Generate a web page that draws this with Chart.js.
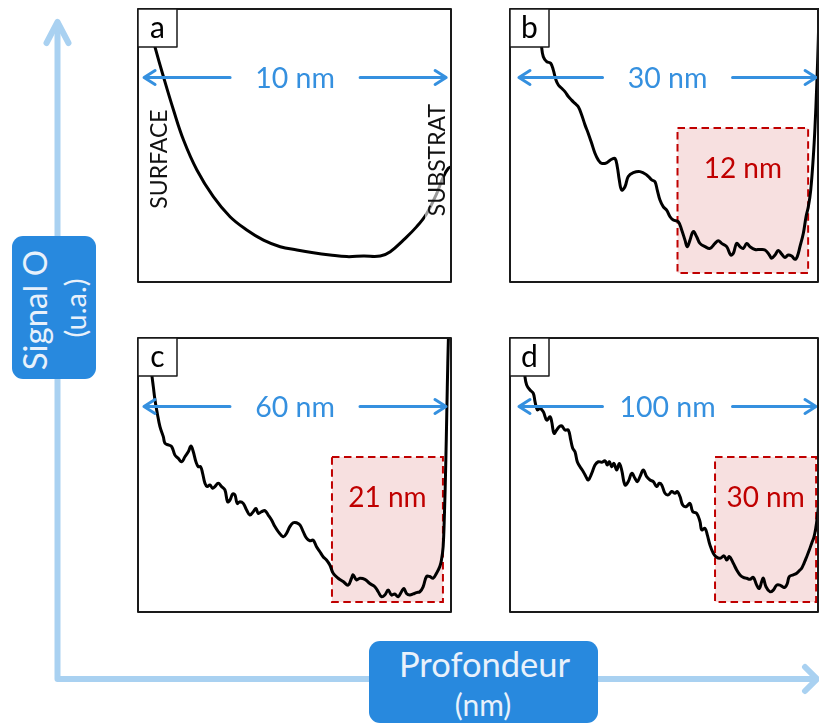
<!DOCTYPE html>
<html>
<head>
<meta charset="utf-8">
<script src="https://cdn.jsdelivr.net/npm/chart.js@4/dist/chart.umd.min.js"></script>
<style>
  html,body{margin:0;padding:0;background:#fff;}
  body{width:819px;height:725px;position:relative;overflow:hidden;font-family:Lato,"Open Sans",sans-serif;}
  canvas.panel{position:absolute;}
  svg{position:absolute;left:0;top:0;}
</style>
</head>
<body>
<svg width="819" height="725">
  <g stroke="#a9d1f1" stroke-width="6" fill="none" stroke-linecap="round" stroke-linejoin="round">
    <path d="M57.5 24 V679 H815"/>
    <path d="M46.5 43 L57.5 22 L68.5 43"/>
    <path d="M805 667 L817 679 L805 691"/>
  </g>
  <rect x="12" y="236" width="84" height="143" rx="11" fill="#2889de"/>
  <text transform="translate(46.5,310) rotate(-90)" text-anchor="middle" font-family="Lato" font-size="33" fill="#e8f1fb">Signal O</text>
  <text transform="translate(86,308) rotate(-90)" text-anchor="middle" font-family="Lato" font-size="29" fill="#e8f1fb">(u.a.)</text>
  <rect x="369" y="641" width="229" height="82" rx="11" fill="#2889de"/>
  <text x="484.5" y="677" text-anchor="middle" font-family="Lato" font-size="34.5" fill="#e8f1fb">Profondeur</text>
  <text x="483" y="716" text-anchor="middle" font-family="Lato" font-size="30" fill="#e8f1fb">(nm)</text>
</svg>
<canvas class="panel" id="pa" width="315" height="275" style="left:137px;top:8px"></canvas>
<canvas class="panel" id="pb" width="310" height="275" style="left:509px;top:8px"></canvas>
<canvas class="panel" id="pc" width="315" height="276" style="left:137px;top:337px"></canvas>
<canvas class="panel" id="pd" width="310" height="276" style="left:509px;top:337px"></canvas>
<script>
// ---- data (depth in nm, O signal in arbitrary units) ----
const panelLetters = ['a', 'b', 'c', 'd'];
const spanLabels = ['10 nm', '30 nm', '60 nm', '100 nm'];
const spanNm = [10, 30, 60, 100];
const zoneLabels = [null, '12 nm', '21 nm', '30 nm'];
const zoneDepth = [null, [16, 29.1], [37.3, 59.2], [65.9, 99.7]];
const zoneSignal = [null, [3.6, 56.4], [4, 56.5], [4, 56.5]];
const depthRange = [[-0.2, 10.16], [-0.9, 30.19], [-1.18, 60.99], [-3.01, 100.67]];

const depthA = [0.1,0.16,0.39,0.67,1.0,1.33,1.77,2.31,2.86,3.41,3.96,4.51,5.06,5.60,6.15,6.70,7.25,7.80,8.13,8.56,9.0,9.33,9.66,9.88,10.04,10.15];
const signalA = [100,95.6,85.9,75.0,62.9,52.0,41.1,31.4,24.1,19.3,15.6,13.2,12.0,11.0,10.2,9.6,9.8,9.8,11.4,15.6,20.5,25.3,32.6,38.7,41.7,42.3];

const depthB = [2.2,2.37,2.54,2.88,3.28,3.54,3.81,4.05,4.38,4.71,5.05,5.38,5.72,6.05,6.39,6.72,7.05,7.39,7.72,8.06,8.39,8.89,9.39,9.73,9.96,10.16,10.4,10.73,11.06,11.57,12.24,12.91,13.41,13.74,13.97,14.24,14.58,14.91,15.25,15.58,16.08,16.42,16.75,16.98,17.25,17.58,17.92,18.25,18.76,19.26,19.76,20.09,20.43,20.93,21.33,21.6,21.93,22.27,22.6,22.94,23.27,23.77,24.27,24.77,25.21,25.44,25.78,26.11,26.45,26.78,27.11,27.45,27.78,28.01,28.28,28.62,28.89,29.12,29.36,29.62,29.79,29.96,30.12,30.2];
const signalB = [95,85.9,82.3,80.5,79.9,77.5,73.8,72.0,70.8,69.6,67.8,66.5,65.3,64.1,61.1,57.5,54.4,50.8,47.2,44.7,43.5,43.7,45.0,45.3,42.3,37.5,33.8,35.0,38.7,40.1,40.5,39.3,37.5,36.8,33.8,30.2,27.7,26.5,24.1,22.9,22.3,19.3,15.6,13.2,15.6,18.7,16.8,14.4,13.2,12.6,14.4,15.4,14.4,13.2,10.2,10.8,14.4,13.2,12.6,14.4,13.2,12.2,12.2,12.0,10.2,9.0,10.2,11.8,10.5,9.3,10.2,9.8,8.6,9.6,13.2,18.1,24.1,27.7,33.8,45.9,56.8,71.4,88.4,100.5];

const depthC = [1.4,1.51,1.71,2.04,2.37,2.83,3.35,4.01,4.34,5.0,5.66,6.31,6.97,7.63,8.28,8.94,9.47,9.93,10.45,10.91,11.37,11.77,12.23,12.69,13.21,13.74,14.2,14.86,15.52,16.17,16.7,17.16,17.69,18.15,18.6,19.13,19.79,20.45,21.1,21.76,22.29,22.75,23.41,24.06,24.72,25.38,26.04,26.69,27.68,28.34,28.99,29.65,30.31,30.97,31.62,32.28,32.94,33.59,34.25,34.91,35.56,36.22,36.88,37.54,38.52,39.51,40.49,41.16,41.48,42.15,42.8,43.79,44.77,45.76,46.42,47.08,47.73,48.39,49.05,49.7,50.36,51.02,51.48,52.01,52.66,53.32,53.98,54.64,55.29,55.95,56.61,57.27,57.93,58.58,58.91,59.24,59.5,59.76,59.96,60.16,60.29];
const signalC = [100,90.5,86.8,82.0,77.2,72.3,67.5,63.9,61.5,60.9,60.3,57.2,56.0,54.8,56.6,58.4,60.5,58.4,54.8,53.0,53.0,50.6,47.0,45.8,46.4,45.2,45.8,47.0,45.8,44.6,40.3,40.9,43.1,42.8,39.7,40.3,39.7,37.3,35.5,36.7,37.9,36.1,36.7,37.1,35.5,33.7,31.3,29.5,27.6,28.9,31.3,32.7,32.7,31.9,29.5,27.1,26.2,26.4,24.0,22.2,20.4,19.2,17.4,14.4,12.6,11.4,10.1,12.6,13.8,12.0,12.6,12.2,10.7,9.5,7.7,5.9,6.5,8.3,6.5,6.9,5.9,7.7,8.9,7.1,6.5,6.9,7.4,7.7,9.5,13.2,13.2,12.6,14.4,16.8,19.2,24.0,36.1,54.2,72.3,90.5,100.1];

const depthD = [1.8,2.0,2.34,2.9,4.01,5.12,5.69,6.46,7.36,8.47,9.6,10.7,11.27,12.04,12.94,13.81,14.62,15.72,16.82,17.63,18.29,19.06,19.83,20.74,21.84,22.74,23.51,24.65,25.75,26.86,27.99,29.1,29.87,30.54,31.34,32.11,33.01,33.88,34.68,35.79,36.89,38.03,39.13,39.9,40.8,41.91,43.04,44.15,45.25,46.39,47.26,48.06,49.16,50.27,51.4,52.51,53.28,54.18,55.08,56.19,57.53,58.43,59.77,60.87,61.44,62.54,63.31,64.21,65.32,66.22,67.56,68.9,69.8,70.67,72.01,73.14,74.25,75.35,76.49,77.59,78.7,79.83,80.7,81.51,82.04,82.94,84.28,85.38,86.52,87.63,88.53,89.3,90.07,90.74,92.07,93.21,94.31,94.88,95.65,96.56,97.42,98.23,99.0,99.67,100.1,100.6];
const signalD = [100,90.5,85.6,82.6,80.8,79.6,76.6,73.6,74.2,72.9,69.9,71.1,69.3,65.1,66.3,67.5,67.8,66.3,66.3,62.7,59.7,58.4,54.8,53.0,51.2,49.4,48.2,50.6,53.6,54.8,54.6,55.1,53.6,54.8,53.0,54.2,51.8,54.2,51.8,46.4,47.6,50.6,48.8,47.6,49.4,51.8,49.4,48.2,47.6,45.8,47.0,46.4,43.4,42.8,44.0,43.4,44.0,42.2,39.1,38.5,39.7,36.7,36.1,33.1,30.1,30.7,28.3,24.6,21.6,20.4,19.8,20.7,19.2,20.4,18.0,15.6,13.8,12.9,12.6,12.2,12.9,10.1,8.9,11.4,12.6,9.5,7.7,8.3,10.1,10.1,9.5,9.3,10.7,13.2,13.8,14.4,15.6,16.2,18.0,20.4,22.8,25.3,27.6,31.3,34.9,39.7];

const depths = [depthA, depthB, depthC, depthD];
const signals = [signalA, signalB, signalC, signalD];
const arrowLevel = 75;

// ---- drawing ----
const ARROW_BLUE = '#3590df';
const decor = {
  id: 'decor',
  beforeDatasetsDraw(chart, args, o) {
    const {ctx, scales: {x, y}} = chart;
    if (!o.zoneDepth) return;
    const x0 = x.getPixelForValue(o.zoneDepth[0]);
    const x1 = x.getPixelForValue(o.zoneDepth[1]);
    const yTop = y.getPixelForValue(o.zoneSignal[1]);
    const yBot = y.getPixelForValue(o.zoneSignal[0]);
    ctx.save();
    ctx.fillStyle = 'rgba(192,0,0,0.12)';
    ctx.fillRect(x0, yTop, x1 - x0, yBot - yTop);
    ctx.setLineDash([7.5, 4.5]);
    ctx.strokeStyle = '#c00000';
    ctx.lineWidth = 2;
    ctx.strokeRect(x0, yTop, x1 - x0, yBot - yTop);
    ctx.setLineDash([]);
    ctx.fillStyle = '#c00000';
    ctx.font = '28px Lato';
    ctx.textAlign = 'center';
    ctx.textBaseline = 'alphabetic';
    ctx.fillText(o.zoneLabel, (x0 + x1) / 2, yTop + 50);
    ctx.restore();
  },
  afterDraw(chart, args, o) {
    const {ctx, scales: {x, y}, width, height} = chart;
    ctx.save();
    if (o.surface) {
      ctx.fillStyle = 'rgba(255,255,255,0.6)';
      ctx.fillRect(288, 80, 19, 142);
      ctx.fillStyle = '#111';
      ctx.font = '23px Lato';
      ctx.textAlign = 'center';
      ctx.textBaseline = 'alphabetic';
      ctx.save(); ctx.translate(30, 151); ctx.rotate(-Math.PI / 2); ctx.fillText('SURFACE', 0, 0); ctx.restore();
      ctx.save(); ctx.translate(308, 152); ctx.rotate(-Math.PI / 2); ctx.fillText('SUBSTRAT', 0, 0); ctx.restore();
    }
    // span arrow
    const ax0 = x.getPixelForValue(0), ax1 = x.getPixelForValue(o.span);
    const ay = Math.round(y.getPixelForValue(arrowLevel)) + 0.5;
    const mid = (ax0 + ax1) / 2;
    ctx.strokeStyle = ARROW_BLUE;
    ctx.lineWidth = 3;
    ctx.lineCap = 'round';
    ctx.lineJoin = 'round';
    ctx.beginPath();
    ctx.moveTo(ax0 + 1, ay); ctx.lineTo(mid - 65, ay);
    ctx.moveTo(mid + 65, ay); ctx.lineTo(ax1 - 1, ay);
    ctx.moveTo(ax0 + 12, ay - 7); ctx.lineTo(ax0 + 1, ay); ctx.lineTo(ax0 + 12, ay + 7);
    ctx.moveTo(ax1 - 12, ay - 7); ctx.lineTo(ax1 - 1, ay); ctx.lineTo(ax1 - 12, ay + 7);
    ctx.stroke();
    ctx.fillStyle = ARROW_BLUE;
    ctx.font = '28.5px Lato';
    ctx.textAlign = 'center';
    ctx.textBaseline = 'alphabetic';
    ctx.fillText(o.spanLabel, mid, ay + 10);
    // panel border
    ctx.strokeStyle = '#1a1a1a';
    ctx.lineWidth = 2;
    ctx.strokeRect(1, 1, width - 2, height - 2);
    // letter box
    ctx.fillStyle = '#fff';
    ctx.fillRect(1, 1, 39, 38);
    ctx.lineWidth = 1.5;
    ctx.strokeRect(1, 1, 39, 38);
    ctx.fillStyle = '#000';
    ctx.font = '30px Lato';
    ctx.textAlign = 'center';
    ctx.fillText(o.letter, 20.5, 30);
    ctx.restore();
  }
};

['pa', 'pb', 'pc', 'pd'].forEach((id, i) => {
  const pts = [];
  const n = Math.min(depths[i].length, signals[i].length);
  for (let k = 0; k < n; k++) pts.push({x: depths[i][k], y: signals[i][k]});
  new Chart(document.getElementById(id), {
    type: 'line',
    data: {
      datasets: [{
        data: pts,
        borderColor: '#000',
        borderWidth: 3,
        pointRadius: 0,
        tension: 0.4,
        borderJoinStyle: 'round',
        borderCapStyle: 'round',
        fill: false
      }]
    },
    options: {
      responsive: false,
      animation: false,
      devicePixelRatio: 1,
      layout: {padding: 0},
      events: [],
      scales: {
        x: {type: 'linear', display: false, min: depthRange[i][0], max: depthRange[i][1]},
        y: {type: 'linear', display: false, min: 0, max: 100}
      },
      plugins: {
        legend: {display: false},
        tooltip: {enabled: false},
        decor: {
          letter: panelLetters[i],
          span: spanNm[i],
          spanLabel: spanLabels[i],
          zoneLabel: zoneLabels[i],
          zoneDepth: zoneDepth[i],
          zoneSignal: zoneSignal[i],
          surface: i === 0
        }
      }
    },
    plugins: [decor]
  });
});
</script>
</body>
</html>
